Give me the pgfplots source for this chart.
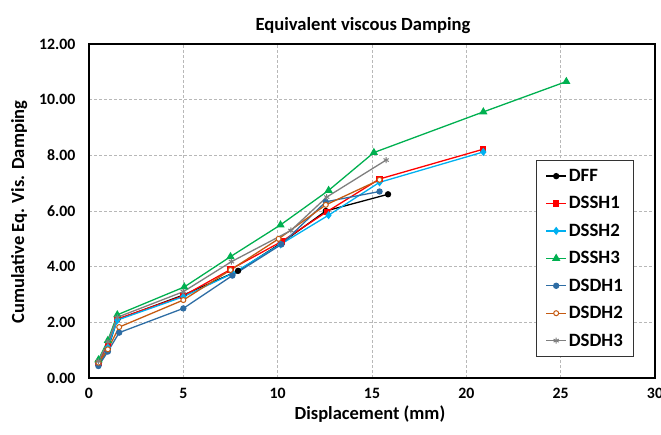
\documentclass[border=0pt]{standalone}
\usepackage{fontspec}
\setmainfont{Carlito}
\usepackage{pgfplots}
\pgfplotsset{compat=1.18}
\definecolor{cDFF}{HTML}{000000}
\definecolor{cSSH1}{HTML}{FF0000}
\definecolor{cSSH2}{HTML}{00B0F0}
\definecolor{cSSH3}{HTML}{00B050}
\definecolor{cSDH1}{HTML}{2E6DA4}
\definecolor{cSDH2}{HTML}{C55A11}
\definecolor{cSDH3}{HTML}{7F7F7F}
\begin{document}
\begin{tikzpicture}[x=1pt,y=1pt]
\useasboundingbox (0,0) rectangle (661,435);
\begin{axis}[
  at={(89pt,57pt)}, anchor=south west,
  scale only axis, width=566pt, height=334pt,
  xmin=0, xmax=30, ymin=0, ymax=12,
  xtick={0,5,...,30}, ytick={0,2,...,12},
  grid=major,
  major grid style={dash pattern=on 3pt off 2pt, color=black!28, line width=0.7pt},
  axis line style={black, line width=1.3pt},
  major tick length=0pt,
  /pgf/number format/assume math mode=true,
  yticklabel style={/pgf/number format/fixed, /pgf/number format/fixed zerofill, /pgf/number format/precision=2, xshift=-10pt},
  ticklabel style={font=\fontsize{15.8}{18}\selectfont\bfseries},
  xticklabel style={yshift=-7pt},
  legend cell align=left,
  legend style={at={(0.790,0.653)}, anchor=north west, draw=black!80, line width=0.8pt,
    font=\fontsize{18.8}{20}\selectfont\bfseries, row sep=9.6pt, inner xsep=9pt, inner ysep=7pt,
    /tikz/every even column/.append style={column sep=2pt}},
  legend image code/.code={\draw[mark repeat=2,mark phase=2] plot coordinates {(0pt,0pt) (10pt,0pt) (20pt,0pt)};},
  every axis plot/.append style={line width=1.3pt},
]
\addplot[color=cDFF, mark=*, mark size=2.5pt] coordinates {
 (0.5,0.50) (1.0,1.05) (1.5,2.10) (5.0,2.98) (7.9,3.85) (10.2,4.85) (12.55,6.00) (15.85,6.60)};
\addlegendentry{DFF}
\addplot[color=cSSH1, mark=square*, mark size=2.5pt] coordinates {
 (0.5,0.55) (1.0,1.20) (1.5,2.12) (5.0,2.95) (7.5,3.90) (10.2,4.90) (12.6,5.97) (15.4,7.15) (20.9,8.22)};
\addlegendentry{DSSH1}
\addplot[color=cSSH2, mark=diamond*, mark size=3.1pt] coordinates {
 (0.5,0.50) (1.0,1.10) (1.5,2.08) (5.0,2.92) (7.6,3.75) (10.15,4.80) (12.7,5.85) (15.4,7.03) (20.9,8.12)};
\addlegendentry{DSSH2}
\addplot[color=cSSH3, mark=triangle*, mark size=3.5pt] coordinates {
 (0.5,0.65) (1.0,1.35) (1.5,2.27) (5.05,3.27) (7.5,4.36) (10.15,5.50) (12.7,6.74) (15.1,8.10) (20.9,9.56) (25.3,10.65)};
\addlegendentry{DSSH3}
\addplot[color=cSDH1, mark=*, mark size=2.5pt] coordinates {
 (0.5,0.43) (1.0,0.95) (1.6,1.63) (5.0,2.50) (7.6,3.68) (10.2,4.80) (12.55,6.33) (15.4,6.70)};
\addlegendentry{DSDH1}
\addplot[color=cSDH2, mark=*, mark size=2.5pt, mark options={fill=white, line width=1pt}] coordinates {
 (0.5,0.55) (1.0,1.03) (1.6,1.83) (5.0,2.80) (7.5,3.88) (10.05,5.00) (12.55,6.22) (15.4,7.12)};
\addlegendentry{DSDH2}
\addplot[color=cSDH3, mark=asterisk, mark size=3pt, mark options={line width=1pt}] coordinates {
 (0.5,0.60) (1.0,1.30) (1.5,2.18) (5.0,3.10) (7.55,4.18) (10.7,5.30) (12.6,6.50) (15.75,7.83)};
\addlegendentry{DSDH3}
\end{axis}
\node[anchor=base, font=\fontsize{18.6}{22}\selectfont\bfseries] at (363,404.5) {Equivalent viscous Damping};
\node[anchor=base, font=\fontsize{18.5}{22}\selectfont\bfseries] at (370,15) {Displacement (mm)};
\node[anchor=base, rotate=90, font=\fontsize{18.5}{22}\selectfont\bfseries] at (24,223) {Cumulative Eq. Vis. Damping};
\end{tikzpicture}
\end{document}
